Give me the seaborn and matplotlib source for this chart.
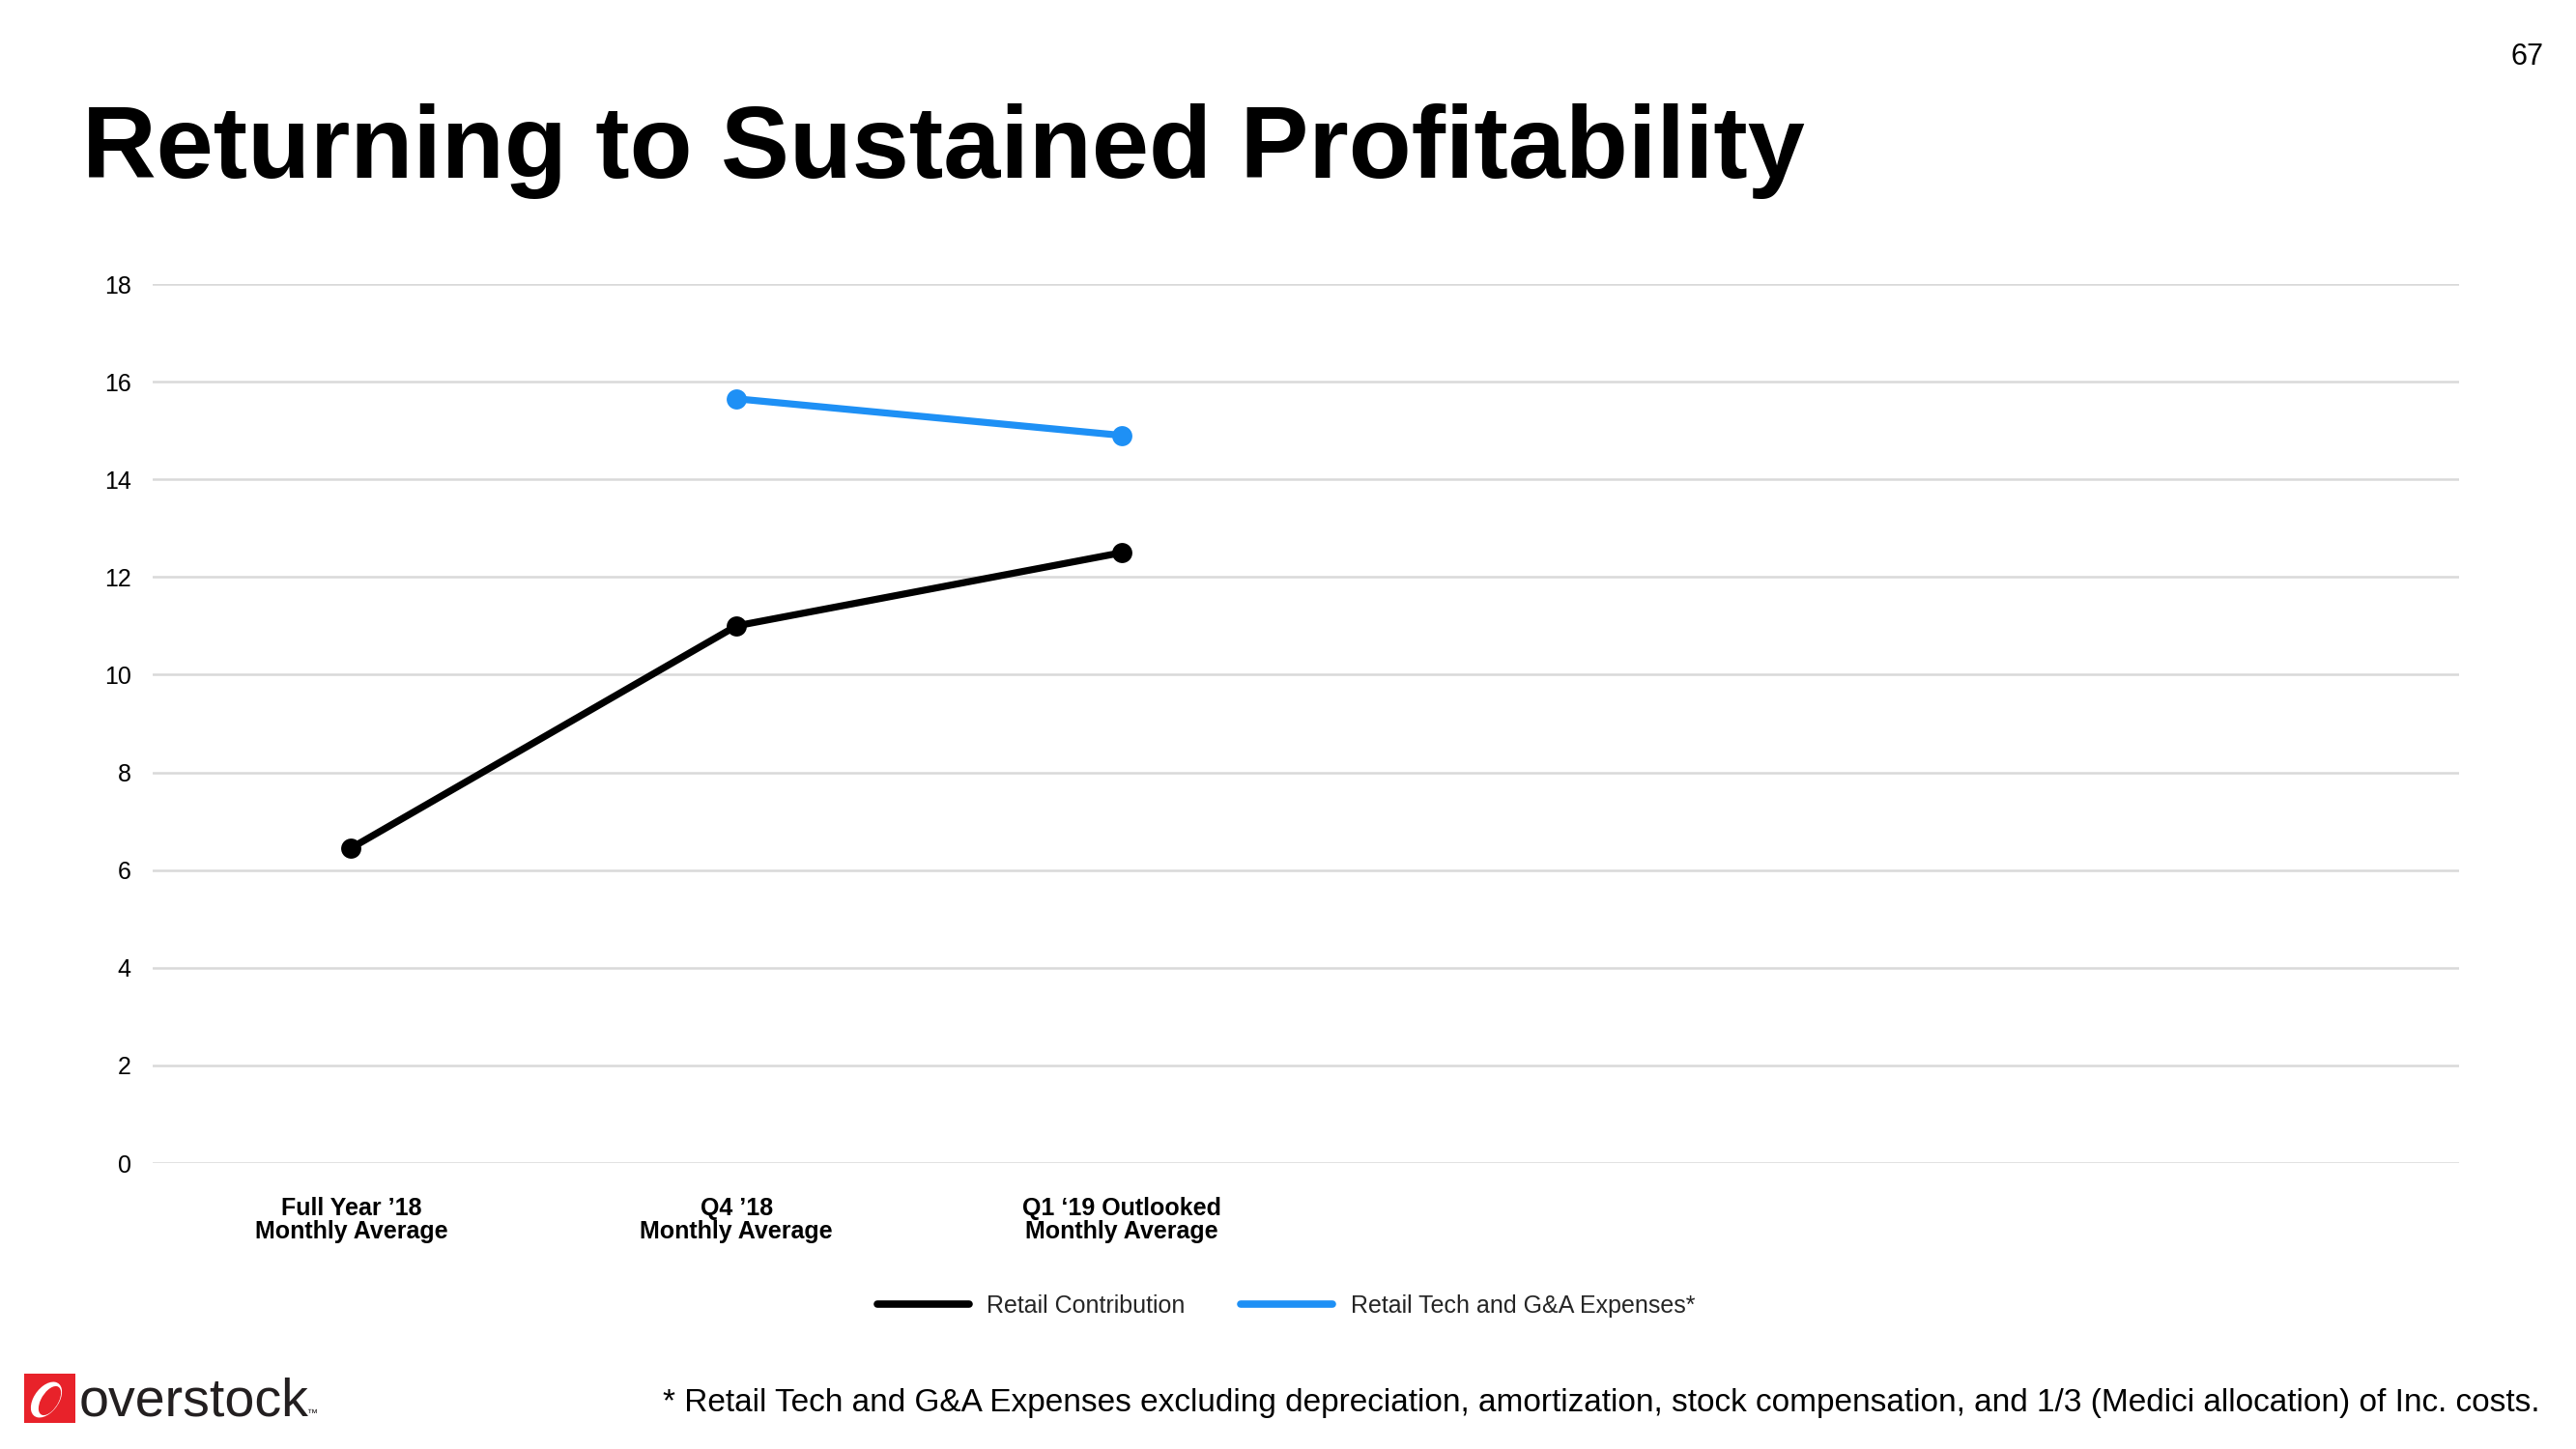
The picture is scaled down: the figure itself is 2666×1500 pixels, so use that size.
import numpy as np
import pandas as pd
import matplotlib
matplotlib.use("Agg")
import matplotlib.pyplot as plt
from matplotlib.lines import Line2D
from matplotlib.patches import Rectangle, Ellipse
import seaborn as sns

# ---------------- data ----------------
categories = ["Full Year \u201918\nMonthly Average",
              "Q4 \u201918\nMonthly Average",
              "Q1 \u201819 Outlooked\nMonthly Average"]
retail_contribution = [6.45, 11.0, 12.5]
tech_ga_expenses = [np.nan, 15.65, 14.9]
series_names = ["Retail Contribution", "Retail Tech and G&A Expenses*"]
y_ticks = [0, 2, 4, 6, 8, 10, 12, 14, 16, 18]

title = "Returning to Sustained Profitability"
page_number = "67"
footnote = ("* Retail Tech and G&A Expenses excluding depreciation, amortization, "
            "stock compensation, and 1/3 (Medici allocation) of Inc. costs.")

colors = {series_names[0]: "#000000", series_names[1]: "#1E90F5"}

df = pd.DataFrame({
    "category": categories * 2,
    "value": retail_contribution + tech_ga_expenses,
    "series": [series_names[0]] * 3 + [series_names[1]] * 3,
})

# ---------------- style ----------------
sns.set_style("white")
plt.rcParams["font.family"] = ["Liberation Sans", "DejaVu Sans"]

W, H = 2666, 1500
fig = plt.figure(figsize=(W / 100, H / 100), dpi=100)
fig.patch.set_facecolor("white")

ax = fig.add_axes([158 / W, 1 - 1204 / H, (2545 - 158) / W, (1204 - 294) / H])

sns.lineplot(data=df.dropna(), x="category", y="value", hue="series",
             palette=colors, marker="o", markersize=15, markeredgewidth=0,
             linewidth=5.2, sort=False, ax=ax, legend=False, clip_on=False)

ax.set_ylim(0, 18)
ax.set_xlim(-0.515, 5.47)
ax.set_yticks(y_ticks)
ax.set_yticklabels([str(t) for t in y_ticks])
ax.set_xticks(range(len(categories)))
ax.set_xticklabels(categories, fontweight="bold", fontsize=18, linespacing=1.0)
ax.tick_params(axis="y", length=0, pad=16, labelsize=18, labelcolor="#000000")
ax.tick_params(axis="x", length=0, pad=25, labelcolor="#000000")
ax.set_xlabel("")
ax.set_ylabel("")
ax.grid(axis="y", color="#d9d9d9", linewidth=1.8)
ax.grid(axis="x", visible=False)
ax.set_axisbelow(True)
for s in ax.spines.values():
    s.set_visible(False)

# legend
handles = [Line2D([], [], color=colors[n], linewidth=5.5) for n in series_names]
fig.legend(handles, series_names, loc="center", bbox_to_anchor=(1331 / W, 1 - 1352 / H),
           ncol=2, frameon=False, fontsize=18, handlelength=3.8, handletextpad=0.75,
           columnspacing=2.3)

# title & page number
fig.text(85 / W, 1 - 184 / H, title, fontsize=76.5, fontweight="bold",
         ha="left", va="baseline", color="#000000")
fig.text(2632 / W, 1 - 59 / H, page_number, fontsize=22, ha="right", va="center",
         color="#000000")

# footnote
fig.text(2629 / W, 1 - 1452 / H, footnote, fontsize=24, ha="right", va="center",
         color="#000000")

# logo
fig.add_artist(Rectangle((25 / W, 1 - 1473 / H), 53 / W, 51 / H,
                         transform=fig.transFigure, color="#E8222A", lw=0))
fig.add_artist(Ellipse((48 / W, 1 - 1449 / H), 28 / W, 38 / H, angle=-15,
                       transform=fig.transFigure, facecolor="white", lw=0))
fig.add_artist(Ellipse((51.5 / W, 1 - 1450 / H), 19 / W, 31 / H, angle=-15,
                       transform=fig.transFigure, facecolor="#E8222A", lw=0))
fig.text(82 / W, 1 - 1466 / H, "overstock", fontsize=40, ha="left",
         va="baseline", color="#231F20")
fig.text(318 / W, 1 - 1466 / H, "\u2122", fontsize=8, ha="left",
         va="baseline", color="#231F20")

fig.savefig("out.png", dpi=100, facecolor="white")
